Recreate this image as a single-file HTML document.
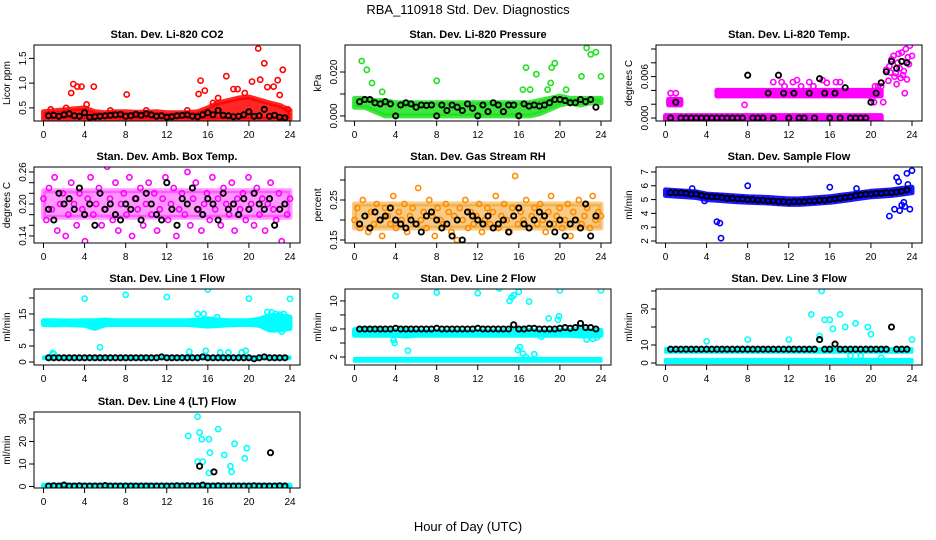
<!DOCTYPE html>
<html><head><meta charset="utf-8"><title>RBA_110918 Std. Dev. Diagnostics</title>
<style>
html,body{margin:0;padding:0;background:#fff;}
svg{display:block;font-family:"Liberation Sans",Arial,sans-serif;}
</style></head>
<body>
<svg id="chart" width="936" height="540" viewBox="0 0 936 540" xmlns="http://www.w3.org/2000/svg">
<rect x="0" y="0" width="936" height="540" fill="#fff"/>
<text x="468" y="14" font-size="13" text-anchor="middle">RBA_110918  Std. Dev. Diagnostics</text>
<text x="468" y="531" font-size="13" text-anchor="middle">Hour of Day (UTC)</text>
</svg>
<script>
// ---------- data ----------
const HOURS=[0,1,2,3,4,5,6,7,8,9,10,11,12,13,14,15,16,17,18,19,20,21,22,23,24];
const X_TICKS=[0,4,8,12,16,20,24];

// Panel 1: CO2
const co2BandLo=[0.27,0.27,0.27,0.27,0.27,0.27,0.27,0.27,0.26,0.27,0.27,0.27,0.27,0.27,0.27,0.27,0.27,0.27,0.27,0.27,0.27,0.27,0.27,0.27,0.27];
const co2BandHi=[0.42,0.44,0.46,0.48,0.5,0.42,0.4,0.42,0.42,0.41,0.41,0.42,0.4,0.4,0.4,0.42,0.5,0.6,0.65,0.7,0.72,0.66,0.6,0.55,0.45];
const co2RedX=[0.7,2.2,2.7,2.9,3.3,3.7,4.2,4.9,6.5,8.1,10,14,15.1,15.3,15.7,16.5,17,17.8,18.5,18.9,19.6,20.3,20.9,21.1,21.5,21.8,22.4,22.8,23.0,23.3,23.8];
const co2RedY=[0.47,0.5,0.8,0.98,0.93,0.93,0.57,0.93,0.45,0.77,0.45,0.45,0.78,1.05,0.85,0.6,0.7,1.14,0.88,0.88,0.8,1.03,1.7,1.07,1.4,0.92,0.93,1.06,0.76,1.27,0.47];
const co2BlackY=[0.34,0.35,0.33,0.36,0.38,0.34,0.33,0.40,0.31,0.32,0.33,0.34,0.35,0.36,0.37,0.33,0.34,0.37,0.35,0.38,0.36,0.33,0.34,0.31,0.32,0.34,0.35,0.36,0.33,0.32,0.36,0.40,0.36,0.45,0.35,0.34,0.32,0.33,0.36,0.42,0.33,0.34,0.47,0.33,0.35,0.31,0.30];

// Panel 2: Pressure
const presBandLo=[0.004,0.004,0.002,0,0,0,0,0,0,0,0,0,0,0,0,0,0,0,0.001,0.003,0.005,0.006,0.005,0.006,0.006];
const presBandHi=[0.008,0.008,0.007,0.007,0.006,0.006,0.006,0.006,0.006,0.006,0.006,0.006,0.006,0.006,0.006,0.006,0.006,0.006,0.007,0.008,0.009,0.008,0.008,0.008,0.008];
const presGreenX=[0.7,1.2,1.7,2.7,8,16.4,16.7,17.1,17.7,18.8,19.1,19.2,19.5,20.6,22.1,22.6,23,23.5,24];
const presGreenY=[0.025,0.021,0.015,0.011,0.016,0.012,0.022,0.012,0.019,0.012,0.015,0.022,0.024,0.012,0.018,0.031,0.028,0.029,0.018];
const presBlackY=[0.0065,0.0075,0.0075,0.006,0.0055,0.0065,0.0055,0,0.005,0.006,0.0055,0.004,0.005,0.0048,0.005,0,0.005,0.0025,0.005,0.004,0.0025,0.0055,0.0035,0,0.005,0.002,0.006,0.005,0.002,0.005,0.005,0,0.0055,0.0045,0.005,0.0045,0.005,0.006,0.0075,0.0075,0.007,0.006,0.006,0.0075,0.0065,0.0075,0.004];

// Panel 3: Temp
const tempBandX0=[0,21], tempBandLo0=[-0.00035,-0.00035], tempBandHi0=[0.00035,0.00035];
const tempBandX1=[5,21], tempBandLo1=[0.0032,0.0032], tempBandHi1=[0.0040,0.0040];
const tempBandX2=[0.3,1.5], tempBandLo2=[0.0019,0.0019], tempBandHi2=[0.0027,0.0027];
const tempPinkX=[0.5,1,7.7,10.5,11.3,11.6,12.4,12.8,13.2,14,14.4,15.3,15.7,16.6,17,20.1,20.3,20.4,20.7,21,21.2,21.5,21.7,21.8,21.9,22,22.2,22.3,22.4,22.5,22.6,22.7,22.8,22.9,23,23.1,23.2,23.3,23.4,23.5,23.6,23.7,23.8,24];
const tempPinkY=[0.0036,0.0036,0.0019,0.0052,0.0052,0.0046,0.0052,0.0055,0.0046,0.0052,0.0046,0.0055,0.0051,0.0052,0.0052,0.0028,0.0023,0.0046,0.0046,0.0046,0.0023,0.007,0.0054,0.0075,0.0066,0.0085,0.009,0.006,0.0065,0.0049,0.008,0.0093,0.0072,0.0058,0.0095,0.0062,0.0068,0.0036,0.01,0.0056,0.0088,0.0078,0.0105,0.009];
const tempBlackY=[0,0.0023,0,0,0,0,0,0,0,0,0,0,0,0,0,0.0062,0,0,0,0.0036,0,0.0062,0.0036,0,0.0036,0,0,0.0036,0,0.0057,0.0036,0,0.0036,0,0.0044,0,0,0,0,0.0023,0.0036,0.0051,0.0067,0.0082,0.0072,0.0082,0.008];

// Panel 4: Amb box temp
const ambBandLo=[0.175,0.175,0.175,0.175,0.175,0.175,0.175,0.175,0.175,0.175,0.175,0.175,0.175,0.175,0.175,0.175,0.175,0.175,0.175,0.175,0.175,0.175,0.175,0.175,0.175];
const ambBandHi=[0.225,0.225,0.225,0.225,0.225,0.225,0.225,0.225,0.225,0.225,0.225,0.225,0.225,0.225,0.225,0.225,0.225,0.225,0.225,0.225,0.225,0.225,0.225,0.225,0.225];
const ambPinkY=[0.21,0.17,0.23,0.19,0.25,0.15,0.2,0.22,0.14,0.18,0.24,0.2,0.16,0.22,0.19,0.13,0.21,0.25,0.18,0.2,0.23,0.16,0.19,0.27,0.21,0.17,0.24,0.15,0.2,0.22,0.18,0.25,0.14,0.21,0.19,0.23,0.16,0.2,0.24,0.18,0.22,0.15,0.19,0.21,0.25,0.17,0.2,0.23,0.14,0.19,0.22,0.18,0.26,0.16,0.21,0.24,0.19,0.15,0.2,0.22,0.17,0.25,0.19,0.21,0.16,0.23,0.2,0.18,0.24,0.15,0.21,0.19,0.22,0.17,0.25,0.2,0.16,0.23,0.18,0.21,0.15,0.2,0.24,0.19,0.17,0.22,0.13,0.2,0.18,0.21];
const ambBlackY=[0.19,0.17,0.22,0.2,0.21,0.19,0.23,0.18,0.2,0.16,0.22,0.19,0.2,0.18,0.17,0.2,0.19,0.21,0.17,0.22,0.2,0.18,0.17,0.24,0.19,0.16,0.21,0.2,0.23,0.19,0.18,0.21,0.2,0.17,0.22,0.19,0.2,0.18,0.21,0.19,0.22,0.2,0.19,0.21,0.16,0.19,0.2];

// Panel 5: Gas stream RH
const rhBandLo=[0.18,0.18,0.18,0.18,0.18,0.18,0.18,0.18,0.18,0.18,0.18,0.18,0.18,0.18,0.18,0.18,0.18,0.18,0.18,0.18,0.18,0.18,0.18,0.18,0.18];
const rhBandHi=[0.24,0.24,0.24,0.24,0.24,0.24,0.24,0.24,0.24,0.24,0.24,0.24,0.24,0.24,0.24,0.24,0.24,0.24,0.24,0.24,0.24,0.24,0.24,0.24,0.24];
const rhOrangeY=[0.2,0.23,0.18,0.25,0.21,0.17,0.22,0.19,0.24,0.2,0.16,0.23,0.21,0.19,0.26,0.18,0.22,0.2,0.24,0.17,0.21,0.23,0.19,0.28,0.2,0.22,0.18,0.25,0.21,0.16,0.23,0.2,0.19,0.24,0.22,0.17,0.21,0.15,0.23,0.2,0.25,0.18,0.22,0.19,0.21,0.24,0.17,0.2,0.23,0.19,0.22,0.26,0.18,0.21,0.24,0.2,0.17,0.23,0.31,0.19,0.22,0.2,0.25,0.18,0.21,0.23,0.19,0.24,0.2,0.17,0.22,0.26,0.19,0.21,0.23,0.18,0.2,0.24,0.16,0.22,0.2,0.25,0.19,0.21,0.23,0.18,0.26,0.2,0.22,0.21];
const rhBlackY=[0.19,0.21,0.18,0.22,0.2,0.21,0.23,0.2,0.19,0.18,0.2,0.19,0.17,0.21,0.22,0.2,0.18,0.19,0.16,0.2,0.15,0.22,0.21,0.2,0.19,0.21,0.18,0.19,0.2,0.17,0.21,0.23,0.19,0.18,0.2,0.22,0.21,0.19,0.17,0.2,0.16,0.19,0.2,0.18,0.24,0.16,0.21];

// Panel 6: Sample flow
const sfBandLo=[5.3,5.25,5.2,5.15,5.0,4.95,4.9,4.85,4.8,4.78,4.75,4.7,4.65,4.65,4.7,4.75,4.8,4.9,5.0,5.1,5.2,5.25,5.3,5.4,5.5];
const sfBandHi=[5.7,5.65,5.6,5.55,5.4,5.35,5.3,5.25,5.2,5.18,5.15,5.1,5.05,5.05,5.1,5.15,5.2,5.3,5.4,5.5,5.6,5.65,5.7,5.8,5.9];
const sfBlueX=[2.6,3.8,5,5.3,5.4,8,16,18.6,21.8,22.3,22.5,22.7,22.8,23,23.2,23.3,23.5,23.6,23.8,24];
const sfBlueY=[5.8,4.9,3.4,3.3,2.2,6.0,5.9,5.8,3.8,4.3,6.6,6.3,4.2,4.6,4.8,4.5,6.9,6.1,4.3,7.1];
const sfBlackY=[5.5,5.5,5.5,5.45,5.4,5.4,5.3,5.25,5.2,5.2,5.15,5.1,5.1,5.05,5.05,5.0,5.0,4.95,4.95,4.9,4.9,4.85,4.85,4.8,4.85,4.85,4.85,4.9,4.9,4.95,4.95,5.0,5.05,5.1,5.15,5.2,5.3,5.35,5.4,5.4,5.45,5.45,5.5,5.5,5.55,5.6,5.7];

// Panel 7: Line 1 flow
const l1BandLo=[11.7,11.6,11.7,11.6,11.5,10.5,11.6,11.7,11.7,11.7,11.7,11.7,11.7,11.7,11.7,11.5,11.2,11.4,11.6,11.7,11.7,11.5,10,10,10.5];
const l1BandHi=[12.9,12.9,12.8,12.8,12.9,12.9,13.1,12.9,12.9,12.9,12.9,12.9,12.9,12.9,12.9,13.1,13.5,13.1,12.9,12.9,12.9,13.3,14.5,14.5,14];
const l1LowLo=[1.0,1.0,1.0,1.0,1.0,1.0,1.0,1.0,1.0,1.0,1.0,1.0,1.0,1.0,1.0,1.0,1.0,1.0,1.0,1.0,1.0,1.0,1.0,1.0,1.0];
const l1LowHi=[1.6,1.6,1.6,1.6,1.6,1.6,1.6,1.6,1.6,1.6,1.6,1.6,1.6,1.6,1.6,1.6,1.6,1.6,1.6,1.6,1.6,1.6,1.6,1.6,1.6];
const l1CyanX=[4,8,12,16,20,24,5.5,15,15.6,16.9,14.2,15.8,17.2,18,19.3,19.7,22.2,22.6,23,23.4,23.7,0.9,1,21.8,22.4,23.2];
const l1CyanY=[19.8,21,20.3,22.6,19.8,19.7,4.6,15,15,14,3.2,3.5,3,3,3,3.5,15.5,15,14.8,15,14,2.8,2.4,15.6,10.2,9.5];
const l1BlackY=[1.3,1.3,1.3,1.3,1.3,1.3,1.3,1.3,1.3,1.3,1.3,1.3,1.3,1.3,1.3,1.3,1.3,1.3,1.3,1.3,1.3,1.3,1.6,1.3,1.3,1.3,1.3,1.3,1.3,1.3,1.6,1.3,1.3,1.3,1.3,1.3,1.3,1.3,1.3,1.3,1.0,1.3,1.6,1.3,1.3,1.3,1.3];

// Panel 8: Line 2 flow
const l2BandLo=[5.1,5.1,5.1,5.1,5.1,5.0,5.1,5.1,5.1,5.1,5.1,5.1,5.1,5.1,5.1,5.1,5.1,5.1,5.1,5.1,5.1,5.1,5.0,5.0,5.1];
const l2BandHi=[5.9,5.9,5.9,5.8,5.8,5.8,5.7,5.7,5.7,5.7,5.7,5.7,5.7,5.7,5.7,5.8,5.9,5.8,5.7,5.7,5.8,5.8,6.0,5.8,5.8];
const l2LowLo=[1.4,1.4,1.4,1.4,1.4,1.4,1.4,1.4,1.4,1.4,1.4,1.4,1.4,1.4,1.4,1.4,1.4,1.4,1.4,1.4,1.4,1.4,1.4,1.4,1.4];
const l2LowHi=[1.8,1.8,1.8,1.8,1.8,1.8,1.8,1.8,1.8,1.8,1.8,1.8,1.8,1.8,1.8,1.8,1.8,1.8,1.8,1.8,1.8,1.8,1.8,1.8,1.8];
const l2CyanX=[4,8,12,14.1,15.1,15.3,15.5,16,17,20,24,3.8,3.9,5.2,18.9,19.8,19.9,22.6,23.2,23.6,15.9,16.1,16.4,17.5,18.2,16.7];
const l2CyanY=[10.7,11.2,11.1,11.8,10,10.5,10.8,11.3,9.9,11.5,11.5,4.4,4,2.9,7.5,7.3,7.8,4.5,4.6,4.8,3,3.4,2.5,2.4,4.9,2];
const l2BlackY=[6,6,6,6,6,6,6,6.1,6,6,6,6,6,6,6,6.1,6,6,6,6,6,6,6,6.1,6,6,6,6,6,6,6.6,6,6,6.1,6.1,6,6,6,6,6.1,6.2,6.1,6.2,6.8,6.2,6.2,6];

// Panel 9: Line 3 flow
const l3BandLo=[6.0,6.0,6.0,6.0,6.0,6.0,6.0,6.0,6.0,6.0,6.0,6.0,6.0,6.0,6.0,6.0,6.0,6.0,6.0,6.0,6.0,6.0,6.0,6.0,6.0];
const l3BandHi=[8.0,8.0,8.0,8.0,8.0,8.0,8.0,8.0,8.0,8.0,8.0,8.0,8.0,8.0,8.0,8.0,8.0,8.0,8.0,8.0,8.0,8.0,8.0,8.0,8.0];
const l3LowLo=[0.3,0.3,0.3,0.3,0.3,0.3,0.3,0.3,0.3,0.3,0.3,0.3,0.3,0.3,0.3,0.3,0.3,0.3,0.3,0.3,0.3,0.3,0.3,0.3,0.3];
const l3LowHi=[2.0,2.0,2.0,2.0,2.0,2.0,2.0,2.0,2.0,2.0,2.0,2.0,2.0,2.0,2.0,2.0,2.0,2.0,2.0,2.0,2.0,2.0,2.0,2.0,2.0];
const l3CyanX=[4,8,12,14.2,15,15.2,15.5,16,16.3,17,17.5,18.5,19.7,20,24,18,19,21];
const l3CyanY=[12,13,13,27,15,40,24,24,19,27,20,22,20,16,13,4,4,3];
const l3BlackY=[7.7,7.7,7.7,7.7,7.7,7.7,7.7,7.7,7.7,7.7,7.7,7.7,7.7,7.7,7.7,7.7,7.7,7.7,7.7,7.7,7.7,7.7,7.7,7.7,7.7,7.7,7.7,7.7,7.7,13,7.7,7.7,10.5,7.7,7.7,7.7,7.7,7.7,7.7,7.7,7.7,7.7,7.7,20,7.7,7.7,7.7];

// Panel 10: Line 4 flow
const l4BandLo=[-0.4,-0.4,-0.4,-0.4,-0.4,-0.4,-0.4,-0.4,-0.4,-0.4,-0.4,-0.4,-0.4,-0.4,-0.4,-0.4,-0.4,-0.4,-0.4,-0.4,-0.4,-0.4,-0.4,-0.4,-0.4];
const l4BandHi=[0.6,0.6,0.6,0.6,0.6,0.6,0.6,0.6,0.6,0.6,0.6,0.6,0.6,0.6,0.6,0.6,0.6,0.6,0.6,0.6,0.6,0.6,0.6,0.6,0.6];
const l4CyanX=[14.1,15,15.2,15.4,16.1,15,15.5,16.2,16.1,17,17.6,18.6,18.2,18.3,19.6,19.8];
const l4CyanY=[22.5,31,24,21,21,11,11,15,6,25.5,14,19,9,6.5,12.5,17];
const l4BlackX=[15.2,16.6,22.1];
const l4BlackExtraY=[9,6.5,15];
const l4BlackY=[0.2,0.3,0.2,0.6,0.2,0.2,0.3,0.2,0.2,0.2,0.2,0.4,0.2,0.2,0.2,0.2,0.2,0.2,0.2,0.2,0.2,0.2,0.2,0.2,0.2,0.3,0.2,0.3,0.2,0.2,0.6,0.2,0.2,0.3,0.2,0.2,0.2,0.2,0.2,0.2,0.3,0.2,0.2,0.2,0.2,0.3,0.2];

// ---------- drawing ----------
const NS="http://www.w3.org/2000/svg";
const svg=document.getElementById('chart');
function mk(tag,attrs,parent){const e=document.createElementNS(NS,tag);for(const k in attrs)e.setAttribute(k,attrs[k]);(parent||svg).appendChild(e);return e;}
const ROWS=[45,167,289,412], COLS=[34,345,656], BW=266, BH=76;

function makePanel(cfg){
  const L=COLS[cfg.col], T=ROWS[cfg.row];
  const g=mk('g',{});
  
  
  const xs=v=>L+9.5+v*(246.5/24);
  const ys=v=>T+BH-(v-cfg.ymin)/(cfg.ymax-cfg.ymin)*BH;
  const title=mk('text',{x:L+BW/2,y:T-7,'font-size':11,'font-weight':'bold','text-anchor':'middle'},g);
  title.textContent=cfg.title;
  
  
  const yl=mk('text',{x:0,y:0,'font-size':10,'text-anchor':'middle',transform:`translate(${L-24},${T+BH/2}) rotate(-90)`},g);
  yl.textContent=cfg.ylabel;
  
  
  const clip=mk('clipPath',{id:'clip'+cfg.col+cfg.row},g);
  mk('rect',{x:L,y:T,width:BW,height:BH},clip);
  const plot=mk('g',{'clip-path':`url(#clip${cfg.col}${cfg.row})`},g);
  
  
  (cfg.bands||[]).forEach(b=>{
    const bx=b.x||HOURS;
    let d='M'+bx.map((v,i)=>xs(v).toFixed(1)+','+ys(b.hi[i]).toFixed(1)).join('L');
    d+='L'+bx.map((v,i)=>[xs(v),ys(b.lo[i])]).reverse().map(p=>p[0].toFixed(1)+','+p[1].toFixed(1)).join('L')+'Z';
    const p=mk('path',{d:d,fill:b.color,stroke:b.color,'stroke-width':b.sw||5,'stroke-linejoin':'round','fill-opacity':b.op||1,'stroke-opacity':b.op||1},plot);
    
    
  });
  (cfg.series||[]).forEach(s=>{
    const n=s.y.length;
    s.y.forEach((v,i)=>{
      const xv=s.x?s.x[i]:(s.spread?i*24/(n-1):0.5+i*23/(n-1));
      const c=mk('circle',{cx:xs(xv).toFixed(1),cy:ys(v).toFixed(1),r:2.6,fill:'none',stroke:s.color,'stroke-width':s.color==='#000'?1.9:1.6},plot);
      
      
    });
  });
  const box=mk('rect',{x:L,y:T,width:BW,height:BH,fill:'none',stroke:'#000','stroke-width':1},g);
  
  
  X_TICKS.forEach(t=>{
    mk('line',{x1:xs(t),x2:xs(t),y1:T+BH,y2:T+BH+5,stroke:'#000'},g);
    const tx=mk('text',{x:xs(t),y:T+BH+17,'font-size':10,'text-anchor':'middle'},g);
    tx.textContent=t;
    
    
  });
  cfg.yticks.forEach((t,i)=>{
    const y=ys(t);
    mk('line',{x1:L-5,x2:L,y1:y,y2:y,stroke:'#000'},g);
    const lab=cfg.ylabels[i];
    if(lab){
      const ty=mk('text',{x:0,y:0,'font-size':10,'text-anchor':'middle',transform:`translate(${L-8},${y}) rotate(-90)`},g);
      ty.textContent=lab;
      
      
    }
  });
}

const RED='#ff0000',GREEN='#1ee01e',MAG='#ff00ff',BLUE='#0000ff',CYAN='#00ffff',BLK='#000';
makePanel({name:'panel-co2',col:0,row:0,title:'Stan. Dev. Li-820 CO2',ylabel:'Licor ppm',ymin:0.235,ymax:1.77,
  yticks:[0.5,1.0,1.5],ylabels:['0.5','1.0','1.5'],
  bands:[{lo:co2BandLo,hi:co2BandHi,color:RED,op:0.85}],
  series:[{name:'co2-point',x:co2RedX,y:co2RedY,color:RED},{name:'co2-mean-point',y:co2BlackY,color:BLK}]});
makePanel({name:'panel-pressure',col:1,row:0,title:'Stan. Dev. Li-820 Pressure',ylabel:'kPa',ymin:-0.0023,ymax:0.0323,
  yticks:[0,0.01,0.02],ylabels:['0.000','','0.020'],
  bands:[{lo:presBandLo,hi:presBandHi,color:GREEN,op:0.85}],
  series:[{name:'pressure-point',x:presGreenX,y:presGreenY,color:GREEN},{name:'pressure-mean-point',y:presBlackY,color:BLK}]});
makePanel({name:'panel-temp',col:2,row:0,title:'Stan. Dev. Li-820 Temp.',ylabel:'degrees C',ymin:-0.00043,ymax:0.01058,
  yticks:[0,0.002,0.004,0.006,0.008,0.010],ylabels:['0.000','','','0.006','',''],
  bands:[{x:tempBandX0,lo:tempBandLo0,hi:tempBandHi0,color:MAG},{x:tempBandX1,lo:tempBandLo1,hi:tempBandHi1,color:MAG},{x:tempBandX2,lo:tempBandLo2,hi:tempBandHi2,color:MAG}],
  series:[{name:'temp-point',x:tempPinkX,y:tempPinkY,color:MAG},{name:'temp-mean-point',y:tempBlackY,color:BLK}]});
makePanel({name:'panel-amb-box-temp',col:0,row:1,title:'Stan. Dev. Amb. Box Temp.',ylabel:'degrees C',ymin:0.1268,ymax:0.2694,
  yticks:[0.14,0.16,0.18,0.20,0.22,0.24,0.26],ylabels:['0.14','','','0.20','','','0.26'],
  bands:[{lo:ambBandLo,hi:ambBandHi,color:MAG,op:0.4}],
  series:[{name:'amb-temp-point',spread:true,y:ambPinkY,color:MAG},{name:'amb-temp-mean-point',y:ambBlackY,color:BLK}]});
makePanel({name:'panel-gas-rh',col:1,row:1,title:'Stan. Dev. Gas Stream RH',ylabel:'percent',ymin:0.1425,ymax:0.3325,
  yticks:[0.15,0.20,0.25,0.30],ylabels:['0.15','','0.25',''],
  bands:[{lo:rhBandLo,hi:rhBandHi,color:'#f0a020',op:0.55}],
  series:[{name:'rh-point',spread:true,y:rhOrangeY,color:'#ff8c00'},{name:'rh-mean-point',y:rhBlackY,color:BLK}]});
makePanel({name:'panel-sample-flow',col:2,row:1,title:'Stan. Dev. Sample Flow',ylabel:'ml/min',ymin:1.855,ymax:7.36,
  yticks:[2,3,4,5,6,7],ylabels:['2','3','4','5','6','7'],
  bands:[{lo:sfBandLo,hi:sfBandHi,color:BLUE,op:0.9}],
  series:[{name:'sample-flow-point',x:sfBlueX,y:sfBlueY,color:BLUE},{name:'sample-flow-mean-point',y:sfBlackY,color:BLK}]});
makePanel({name:'panel-line1-flow',col:0,row:2,title:'Stan. Dev. Line 1 Flow',ylabel:'ml/min',ymin:-0.94,ymax:22.8,
  yticks:[0,5,10,15,20],ylabels:['0','5','','15',''],
  bands:[{lo:l1BandLo,hi:l1BandHi,color:CYAN},{lo:l1LowLo,hi:l1LowHi,color:CYAN,sw:3}],
  series:[{name:'line1-point',x:l1CyanX,y:l1CyanY,color:CYAN},{name:'line1-mean-point',y:l1BlackY,color:BLK}]});
makePanel({name:'panel-line2-flow',col:1,row:2,title:'Stan. Dev. Line 2 Flow',ylabel:'ml/min',ymin:0.86,ymax:11.7,
  yticks:[2,4,6,8,10],ylabels:['2','','6','','10'],
  bands:[{lo:l2BandLo,hi:l2BandHi,color:CYAN},{lo:l2LowLo,hi:l2LowHi,color:CYAN,sw:3}],
  series:[{name:'line2-point',x:l2CyanX,y:l2CyanY,color:CYAN},{name:'line2-mean-point',y:l2BlackY,color:BLK}]});
makePanel({name:'panel-line3-flow',col:2,row:2,title:'Stan. Dev. Line 3 Flow',ylabel:'ml/min',ymin:-1.1,ymax:41.1,
  yticks:[0,10,20,30,40],ylabels:['0','10','','30',''],
  bands:[{lo:l3BandLo,hi:l3BandHi,color:CYAN,sw:3},{lo:l3LowLo,hi:l3LowHi,color:CYAN,sw:3}],
  series:[{name:'line3-point',x:l3CyanX,y:l3CyanY,color:CYAN},{name:'line3-mean-point',y:l3BlackY,color:BLK}]});
makePanel({name:'panel-line4-flow',col:0,row:3,title:'Stan. Dev. Line 4 (LT) Flow',ylabel:'ml/min',ymin:-0.67,ymax:33.1,
  yticks:[0,10,20,30],ylabels:['0','10','20','30'],
  bands:[{lo:l4BandLo,hi:l4BandHi,color:CYAN}],
  series:[{name:'line4-point',x:l4CyanX,y:l4CyanY,color:CYAN},{name:'line4-mean-point',y:l4BlackY,color:BLK},{name:'line4-mean-outlier',x:l4BlackX,y:l4BlackExtraY,color:BLK}]});
</script>
</body></html>
